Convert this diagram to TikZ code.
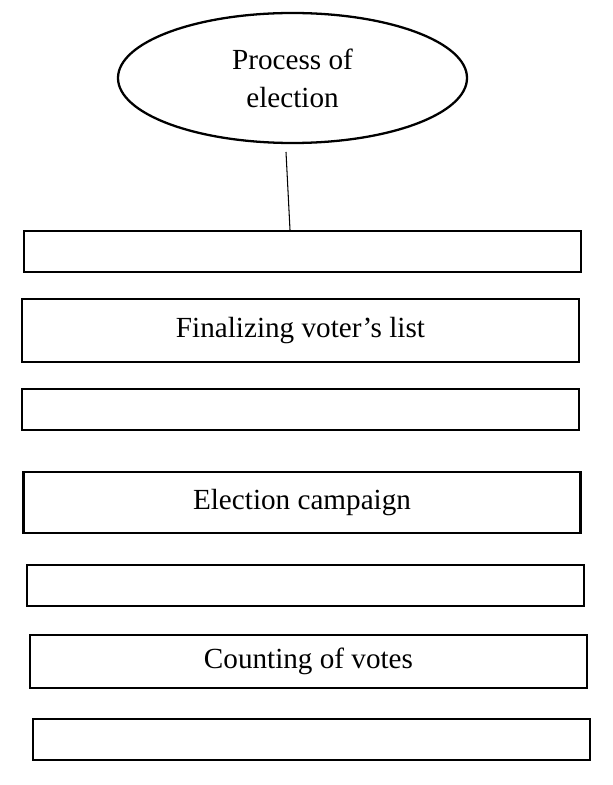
\documentclass[tikz,border=0pt]{standalone}
\usepackage{fontspec}
\setmainfont{Liberation Serif}
\usepackage{tikz}
\usetikzlibrary{shapes.geometric}
\tikzset{
  font={\fontsize{16.6pt}{21.6pt}\selectfont}}
\tikzset{
  stage/.style={draw=black, line width=1.3pt, minimum width=11.14cm, inner sep=0pt},
  topic/.style={draw=black, ellipse, line width=1.3pt, minimum width=6.98cm,
    minimum height=2.6cm, inner sep=0pt, align=center}}

\begin{document}
\begin{tikzpicture}[scale=0.2]
\useasboundingbox (0,0) rectangle (61.3,-78.5);
\node [topic] (title) at (29.25,-7.8) {Process of\\election};
\node [stage, minimum height=0.82cm] (s1) at (30.25,-25.15) {};
\node [stage, minimum height=1.26cm] (s2) at (30.05,-33.05) {Finalizing voter’s list};
\node [stage, minimum height=0.82cm] (s3) at (30.05,-40.95) {};
\node [stage, minimum height=1.22cm] (s4) at (30.2,-50.25) {Election campaign};
\node [stage, minimum height=0.82cm] (s5) at (30.55,-58.55) {};
\node [stage, minimum height=1.06cm] (s6) at (30.85,-66.15) {Counting of votes};
\node [stage, minimum height=0.82cm] (s7) at (31.15,-73.95) {};
\coordinate (tail) at (28.6,-15.2);
\draw [black, line width=0.6pt] (tail) -- ([xshift=-12.5mm]s1.north);
\end{tikzpicture}
\end{document}
